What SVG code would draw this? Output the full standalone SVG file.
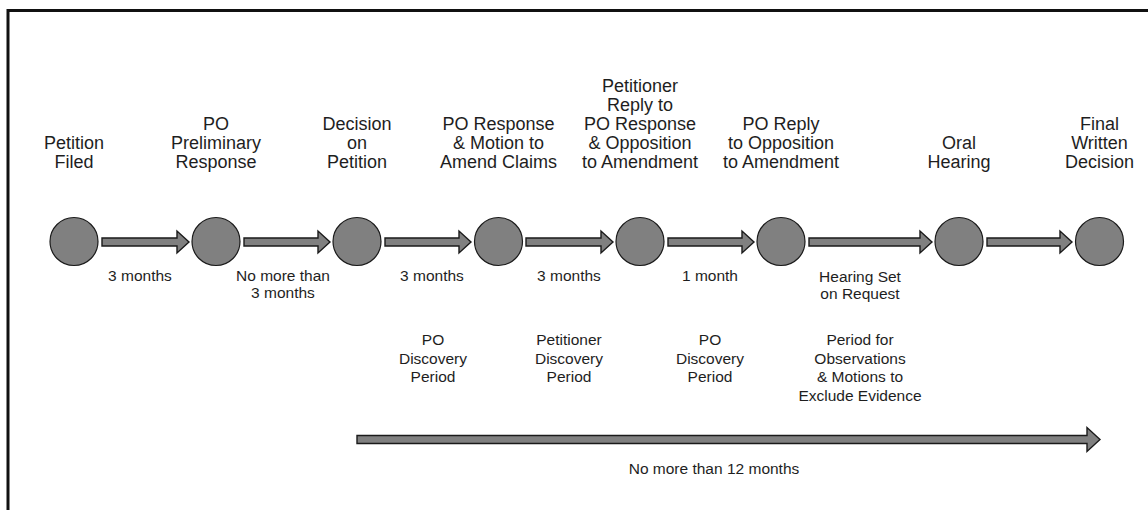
<svg xmlns="http://www.w3.org/2000/svg" width="1148" height="510" viewBox="0 0 1148 510">
<style>
.frame{fill:none;stroke:#111;stroke-width:3}
.node{fill:#808080;stroke:#1a1a1a;stroke-width:1.2}
.arrow{fill:#808080;stroke:#1a1a1a;stroke-width:1.4;stroke-linejoin:miter}
.t{font-family:"Liberation Sans",Arial,sans-serif;font-size:18px;fill:#1e1e1e;text-anchor:middle}
.s{font-family:"Liberation Sans",Arial,sans-serif;font-size:15.5px;fill:#1e1e1e;text-anchor:middle}
</style>
<rect width="1148" height="510" fill="#fff"/>
<rect class="frame" x="8" y="10.5" width="1200" height="600"/>

<g id="connectors">
<path class="arrow" d="M102,238 H177 V231 L189,242 L177,253 V246 H102 Z"/>
<path class="arrow" d="M244,238 H318 V231 L330,242 L318,253 V246 H244 Z"/>
<path class="arrow" d="M385,238 H459 V231 L471,242 L459,253 V246 H385 Z"/>
<path class="arrow" d="M526,238 H601 V231 L613,242 L601,253 V246 H526 Z"/>
<path class="arrow" d="M668,238 H742 V231 L754,242 L742,253 V246 H668 Z"/>
<path class="arrow" d="M809,238 H920 V231 L932,242 L920,253 V246 H809 Z"/>
<path class="arrow" d="M987,238 H1060 V231 L1072,242 L1060,253 V246 H987 Z"/>
<path class="arrow" d="M357,435.5 H1087 V427.5 L1100,439.5 L1087,451.5 V443.5 H357 Z"/>
<text class="s" x="140" y="281">3 months</text>
<text class="s" x="283" y="281">No more than</text>
<text class="s" x="283" y="298">3 months</text>
<text class="s" x="432" y="281">3 months</text>
<text class="s" x="569" y="281">3 months</text>
<text class="s" x="710" y="281">1 month</text>
<text class="s" x="860" y="281.5">Hearing Set</text>
<text class="s" x="860" y="298.5">on Request</text>
<text class="s" x="433" y="345">PO</text>
<text class="s" x="433" y="363.5">Discovery</text>
<text class="s" x="433" y="382">Period</text>
<text class="s" x="569" y="345">Petitioner</text>
<text class="s" x="569" y="363.5">Discovery</text>
<text class="s" x="569" y="382">Period</text>
<text class="s" x="710" y="345">PO</text>
<text class="s" x="710" y="363.5">Discovery</text>
<text class="s" x="710" y="382">Period</text>
<text class="s" x="860" y="345">Period for</text>
<text class="s" x="860" y="363.5">Observations</text>
<text class="s" x="860" y="382">&amp; Motions to</text>
<text class="s" x="860" y="401">Exclude Evidence</text>
<text class="s" x="714" y="474">No more than 12 months</text>
</g>

<g id="n1">
<circle class="node" cx="74" cy="241.5" r="24"/>
<text class="t" x="74" y="149">Petition</text>
<text class="t" x="74" y="168">Filed</text>
</g>
<g id="n2">
<circle class="node" cx="216" cy="241.5" r="24"/>
<text class="t" x="216" y="130">PO</text>
<text class="t" x="216" y="149">Preliminary</text>
<text class="t" x="216" y="168">Response</text>
</g>
<g id="n3">
<circle class="node" cx="357" cy="241.5" r="24"/>
<text class="t" x="357" y="130">Decision</text>
<text class="t" x="357" y="149">on</text>
<text class="t" x="357" y="168">Petition</text>
</g>
<g id="n4">
<circle class="node" cx="498.5" cy="241.5" r="24"/>
<text class="t" x="498.5" y="130">PO Response</text>
<text class="t" x="498.5" y="149">&amp; Motion to</text>
<text class="t" x="498.5" y="168">Amend Claims</text>
</g>
<g id="n5">
<circle class="node" cx="640" cy="241.5" r="24"/>
<text class="t" x="640" y="92">Petitioner</text>
<text class="t" x="640" y="111">Reply to</text>
<text class="t" x="640" y="130">PO Response</text>
<text class="t" x="640" y="149">&amp; Opposition</text>
<text class="t" x="640" y="168">to Amendment</text>
</g>
<g id="n6">
<circle class="node" cx="781" cy="241.5" r="24"/>
<text class="t" x="781" y="130">PO Reply</text>
<text class="t" x="781" y="149">to Opposition</text>
<text class="t" x="781" y="168">to Amendment</text>
</g>
<g id="n7">
<circle class="node" cx="959" cy="241.5" r="24"/>
<text class="t" x="959" y="149">Oral</text>
<text class="t" x="959" y="168">Hearing</text>
</g>
<g id="n8">
<circle class="node" cx="1099.5" cy="241.5" r="24"/>
<text class="t" x="1099.5" y="130">Final</text>
<text class="t" x="1099.5" y="149">Written</text>
<text class="t" x="1099.5" y="168">Decision</text>
</g>
</svg>
